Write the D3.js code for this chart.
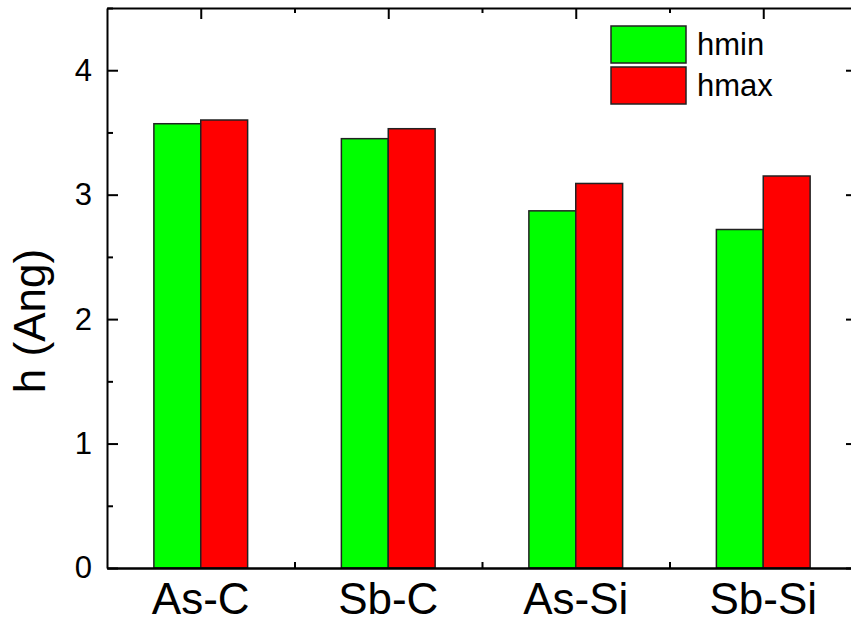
<!DOCTYPE html>
<html>
<head>
<meta charset="utf-8">
<script src="https://cdn.jsdelivr.net/npm/d3@7"></script>
<style>
  body { margin: 0; background: #fff; }
  svg { display: block; font-family: "Liberation Sans", Arial, sans-serif; }
</style>
</head>
<body>
<div id="chart"></div>
<script>
// data
const categories = ["As-C", "Sb-C", "As-Si", "Sb-Si"];
const seriesNames = ["hmin", "hmax"];
const hmin = [3.57, 3.45, 2.87, 2.72];
const hmax = [3.60, 3.53, 3.09, 3.15];
const yTicks = [0, 1, 2, 3, 4];
const yMinorTicks = [0.5, 1.5, 2.5, 3.5, 4.5];
const seriesColors = ["#00ff00", "#ff0000"];

const W = 851, H = 623;
const plot = { left: 107, right: 857, top: 8, bottom: 568 };

const svg = d3.select("#chart").append("svg")
    .attr("width", W)
    .attr("height", H);

const x = d3.scaleBand()
    .domain(categories)
    .range([plot.left, plot.right])
    .paddingInner(0.5)
    .paddingOuter(0.25);

const xs = d3.scaleBand()
    .domain(seriesNames)
    .range([0, x.bandwidth()]);

// index scale, used for the ticks between categories
const xi = d3.scaleLinear()
    .domain([-0.5, categories.length - 0.5])
    .range([plot.left, plot.right]);

const y = d3.scaleLinear()
    .domain([0, 4.5])
    .range([plot.bottom, plot.top]);

const rows = categories.map((c, i) => ({ cat: c, hmin: hmin[i], hmax: hmax[i] }));

// bars
const groups = svg.selectAll(".grp")
    .data(rows)
    .enter()
    .append("g")
    .attr("class", "grp")
    .attr("transform", d => `translate(${x(d.cat)},0)`);

groups.selectAll("rect")
    .data(d => seriesNames.map(s => ({ key: s, value: d[s] })))
    .enter()
    .append("rect")
    .attr("x", d => xs(d.key))
    .attr("y", d => y(d.value))
    .attr("width", xs.bandwidth())
    .attr("height", d => y(0) - y(d.value))
    .attr("fill", d => seriesColors[seriesNames.indexOf(d.key)])
    .attr("stroke", "#222")
    .attr("stroke-width", 1.5);

function styleAxis(g) {
    g.select(".domain").attr("stroke", "#000").attr("stroke-width", 2);
    g.selectAll(".tick line").attr("stroke", "#000").attr("stroke-width", 2);
    g.selectAll(".tick text").attr("fill", "#000");
}

// left axis, ticks pointing in
svg.append("g")
    .attr("transform", `translate(${plot.left},0)`)
    .call(d3.axisLeft(y).tickValues(yTicks).tickSizeInner(-11).tickSizeOuter(0).tickPadding(15).tickFormat(d3.format("d")))
    .call(styleAxis)
    .call(g => g.selectAll("text").style("font-size", "31px").style("font-family", "'Liberation Sans', Arial, sans-serif"));

svg.append("g")
    .attr("transform", `translate(${plot.left},0)`)
    .call(d3.axisLeft(y).tickValues(yMinorTicks).tickSizeInner(-6).tickSizeOuter(0).tickFormat(""))
    .call(styleAxis)
    .call(g => g.select(".domain").remove());

// right axis (mostly off the picture)
svg.append("g")
    .attr("transform", `translate(${plot.right},0)`)
    .call(d3.axisRight(y).tickValues(yTicks).tickSizeInner(-11).tickSizeOuter(0).tickFormat(""))
    .call(styleAxis);

svg.append("g")
    .attr("transform", `translate(${plot.right},0)`)
    .call(d3.axisRight(y).tickValues(yMinorTicks).tickSizeInner(-6).tickSizeOuter(0).tickFormat(""))
    .call(styleAxis)
    .call(g => g.select(".domain").remove());

// bottom axis: labels, small ticks between categories
svg.append("g")
    .attr("transform", `translate(0,${plot.bottom})`)
    .call(d3.axisBottom(x).tickSize(0).tickPadding(15))
    .call(styleAxis)
    .call(g => g.selectAll("text").style("font-size", "44px").style("font-family", "'Liberation Sans', Arial, sans-serif"));

svg.append("g")
    .attr("transform", `translate(0,${plot.bottom})`)
    .call(d3.axisBottom(xi).tickValues([0.5, 1.5, 2.5]).tickSizeInner(-6).tickSizeOuter(0).tickFormat(""))
    .call(styleAxis);

// top axis: ticks at categories and between them
svg.append("g")
    .attr("transform", `translate(0,${plot.top})`)
    .call(d3.axisTop(xi).tickValues([0, 1, 2, 3]).tickSizeInner(-11).tickSizeOuter(0).tickFormat(""))
    .call(styleAxis);

svg.append("g")
    .attr("transform", `translate(0,${plot.top})`)
    .call(d3.axisTop(xi).tickValues([0.5, 1.5, 2.5]).tickSizeInner(-5).tickSizeOuter(0).tickFormat(""))
    .call(styleAxis)
    .call(g => g.select(".domain").remove());

// y title
svg.append("text")
    .attr("transform", `translate(45,${(plot.top + plot.bottom) / 2 + 33}) rotate(-90)`)
    .attr("text-anchor", "middle")
    .style("font-size", "44px")
    .text("h (Ang)");

// legend
const legend = svg.append("g").attr("transform", "translate(611,26)");
seriesNames.forEach((s, i) => {
    legend.append("rect")
        .attr("x", 0)
        .attr("y", i * 41)
        .attr("width", 75)
        .attr("height", 37)
        .attr("fill", seriesColors[i])
        .attr("stroke", "#222")
        .attr("stroke-width", 1.5);
    legend.append("text")
        .attr("x", 86)
        .attr("y", i * 41 + 29)
        .style("font-size", "31px")
        .text(s);
});
</script>
</body>
</html>
